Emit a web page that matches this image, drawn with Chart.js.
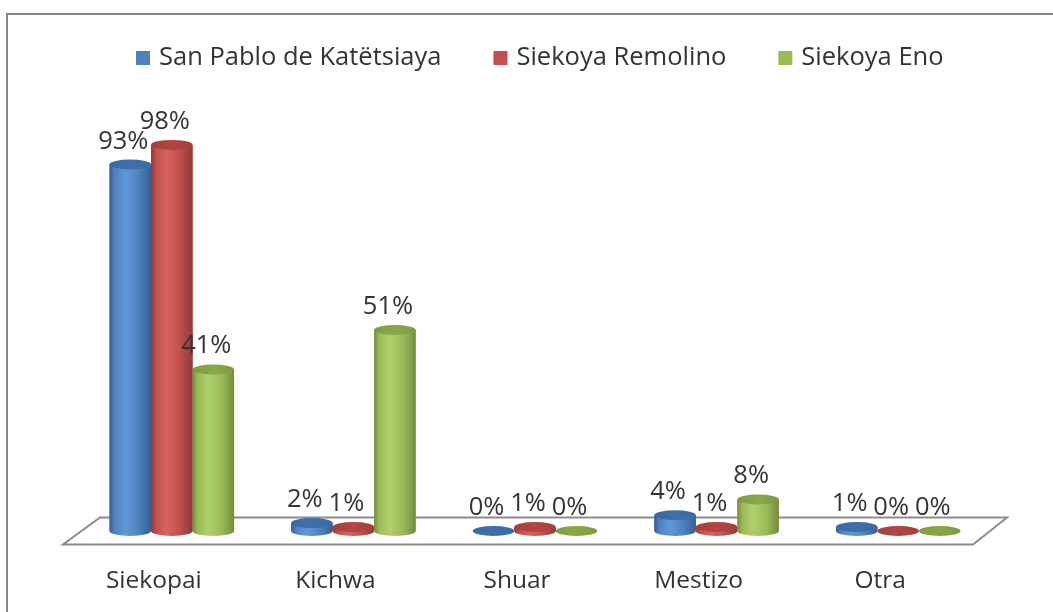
<!DOCTYPE html>
<html><head><meta charset="utf-8">
<script src="https://cdn.jsdelivr.net/npm/chart.js@4.4.1/dist/chart.umd.min.js"></script>
<style>
html,body{margin:0;padding:0;background:#fff;overflow:hidden;}
#wrap{position:relative;width:1053px;height:612px;overflow:hidden;}
#frame{position:absolute;left:6px;top:13px;width:1100px;height:700px;border:2px solid #878787;box-sizing:border-box;}
canvas{position:absolute;left:0;top:0;}
</style></head><body>
<div id="wrap"><div id="frame"></div><canvas id="c" width="1053" height="612"></canvas></div>
<script>
const categories = ['Siekopai', 'Kichwa', 'Shuar', 'Mestizo', 'Otra'];
const seriesNames = ['San Pablo de Katëtsiaya', 'Siekoya Remolino', 'Siekoya Eno'];
const sanPablo = [93, 2, 0, 4, 1];
const remolino = [98, 1, 1, 1, 0];
const eno = [41, 51, 0, 8, 0];

const palettes = [
  {base:'#4F81BD', light:'#6198DA', dark:'#395F91', cap:'#3F70AC', flat:'#3C69A1'},
  {base:'#C0504D', light:'#D8625E', dark:'#8F3836', cap:'#B24643', flat:'#A53F3C'},
  {base:'#9BBB59', light:'#B0CF6C', dark:'#738C3D', cap:'#88A848', flat:'#7E9B44'}
];
const FONT = '"Open Sans", sans-serif';
const TEXT = '#333333';

const cylinderPlugin = {
  id: 'cyl',
  beforeDatasetsDraw(chart) {
    const {ctx, chartArea: a} = chart;
    const d = 13.5, s = 18;
    ctx.save();
    ctx.beginPath();
    ctx.moveTo(a.left + s + 1, a.bottom - d);
    ctx.lineTo(a.right + s, a.bottom - d);
    ctx.lineTo(a.right - s + 2, a.bottom + d);
    ctx.lineTo(a.left - s, a.bottom + d);
    ctx.closePath();
    ctx.fillStyle = '#ffffff';
    ctx.fill();
    ctx.lineWidth = 2;
    ctx.strokeStyle = '#8C8C8C';
    ctx.stroke();
    ctx.restore();
  },
  afterDatasetsDraw(chart) {
    const ctx = chart.ctx;
    ctx.save();
    chart.data.datasets.forEach((ds, i) => {
      const meta = chart.getDatasetMeta(i);
      const p = palettes[i];
      meta.data.forEach((bar, j) => {
        const {x, y, base, width} = bar.getProps(['x', 'y', 'base', 'width'], true);
        const rx = width / 2, ry = 5;
        if (base - y < 1) {
          ctx.beginPath();
          ctx.ellipse(x, base, rx, ry, 0, 0, Math.PI * 2);
          const g0 = ctx.createLinearGradient(x - rx, 0, x + rx, 0);
          g0.addColorStop(0, p.flat); g0.addColorStop(0.4, p.cap); g0.addColorStop(1, p.flat);
          ctx.fillStyle = g0;
          ctx.fill();
        } else {
          const g = ctx.createLinearGradient(x - rx, 0, x + rx, 0);
          g.addColorStop(0, p.dark);
          g.addColorStop(0.12, p.base);
          g.addColorStop(0.38, p.light);
          g.addColorStop(0.7, p.base);
          g.addColorStop(1, p.dark);
          ctx.beginPath();
          ctx.moveTo(x - rx, y);
          ctx.lineTo(x - rx, base);
          ctx.ellipse(x, base, rx, ry, 0, Math.PI, 0, true);
          ctx.lineTo(x + rx, y);
          ctx.closePath();
          ctx.fillStyle = g;
          ctx.fill();
          ctx.beginPath();
          ctx.ellipse(x, y, rx, ry, 0, 0, Math.PI * 2);
          const gc = ctx.createLinearGradient(x - rx, 0, x + rx, 0);
          gc.addColorStop(0, p.flat); gc.addColorStop(0.5, p.cap); gc.addColorStop(1, p.flat);
          ctx.fillStyle = gc;
          ctx.fill();
        }
        ctx.font = '25.5px ' + FONT;
        ctx.fillStyle = TEXT;
        ctx.textAlign = 'center';
        ctx.textBaseline = 'alphabetic';
        ctx.fillText(ds.data[j] + '%', x - 7, y - 16);
      });
    });
    ctx.restore();
  },
  afterDraw(chart) {
    const ctx = chart.ctx;
    ctx.save();
    ctx.font = '25.5px ' + FONT;
    const box = 14, gapText = 9, gapItem = 52;
    const widths = seriesNames.map(n => ctx.measureText(n).width);
    let xx = 136;
    const yc = 58;
    seriesNames.forEach((n, i) => {
      ctx.fillStyle = palettes[i].base;
      ctx.fillRect(xx, yc - box / 2, box, box);
      ctx.fillStyle = TEXT;
      ctx.textAlign = 'left';
      ctx.textBaseline = 'middle';
      ctx.fillText(n, xx + box + gapText, yc);
      xx += box + gapText + widths[i] + gapItem;
    });
    ctx.restore();
  }
};

new Chart(document.getElementById('c'), {
  type: 'bar',
  data: {
    labels: categories,
    datasets: [
      {label: seriesNames[0], data: sanPablo, backgroundColor: palettes[0].base},
      {label: seriesNames[1], data: remolino, backgroundColor: palettes[1].base},
      {label: seriesNames[2], data: eno, backgroundColor: palettes[2].base}
    ]
  },
  options: {
    responsive: false,
    animation: false,
    devicePixelRatio: 1,
    layout: {padding: {left: 81, right: 64, top: 137, bottom: 0}},
    datasets: {bar: {barPercentage: 1, categoryPercentage: 0.686, borderWidth: 0}},
    plugins: {legend: {display: false}, tooltip: {enabled: false}},
    scales: {
      y: {display: false, min: 0, max: 100},
      x: {
        grid: {display: false},
        border: {display: false},
        ticks: {font: {family: FONT, size: 24.5}, color: TEXT, padding: 27, labelOffset: -18},
        afterFit(scale) { scale.height = 81; }
      }
    }
  },
  plugins: [cylinderPlugin]
});
</script>
</body></html>
